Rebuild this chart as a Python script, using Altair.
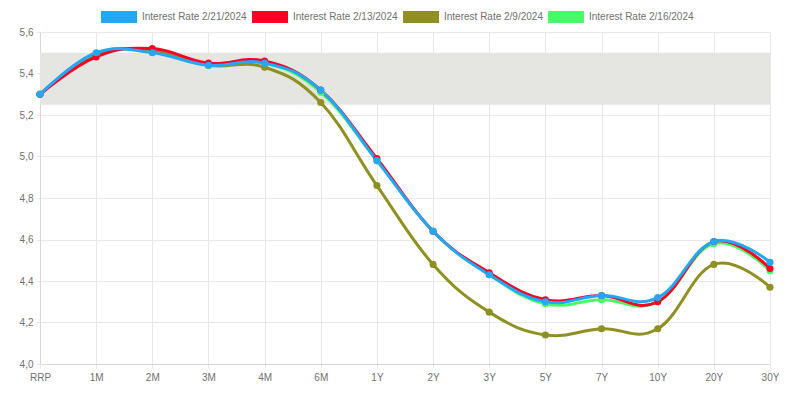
import altair as alt
import pandas as pd

terms = ["RRP", "1M", "2M", "3M", "4M", "6M", "1Y", "2Y", "3Y", "5Y", "7Y", "10Y", "20Y", "30Y"]

series_names = ["Interest Rate 2/21/2024", "Interest Rate 2/13/2024",
                "Interest Rate 2/9/2024", "Interest Rate 2/16/2024"]
series_colors = ["#22a7f9", "#ff0022", "#8f8f22", "#44ff66"]

rate_0221 = [5.30, 5.50, 5.50, 5.44, 5.45, 5.32, 4.98, 4.64, 4.43, 4.30, 4.33, 4.32, 4.59, 4.49]
rate_0213 = [5.30, 5.48, 5.52, 5.45, 5.46, 5.32, 4.99, 4.64, 4.44, 4.31, 4.33, 4.30, 4.59, 4.46]
rate_0209 = [5.30, 5.49, 5.51, 5.44, 5.43, 5.26, 4.86, 4.48, 4.25, 4.14, 4.17, 4.17, 4.48, 4.37]
rate_0216 = [5.30, 5.49, 5.51, 5.44, 5.45, 5.31, 4.98, 4.64, 4.43, 4.29, 4.31, 4.30, 4.58, 4.45]

band_low = [5.25]
band_high = [5.50]

y_ticks = [4.0, 4.2, 4.4, 4.6, 4.8, 5.0, 5.2, 5.4, 5.6]

# draw order: bottom to top (green, olive, red, blue)
draw_order = [(series_names[3], rate_0216), (series_names[2], rate_0209),
              (series_names[1], rate_0213), (series_names[0], rate_0221)]
rows = []
for name, vals in draw_order:
    for t, v in zip(terms, vals):
        rows.append({"term": t, "rate": v, "series": name})
df = pd.DataFrame(rows)
band_df = pd.DataFrame({"lo": band_low, "hi": band_high})

x_enc = alt.X("term:N", sort=terms, title=None,
              scale=alt.Scale(type="point", padding=0),
              axis=alt.Axis(labelAngle=0, labelFontSize=10, labelColor="#707070",
                            labelFont="Liberation Sans", ticks=True, tickSize=4,
                            tickColor="#e8e8e8", labelPadding=4,
                            grid=True, gridColor="#e8e8e8", domainColor="#d8d8d8"))
y_enc = alt.Y("rate:Q", title=None,
              scale=alt.Scale(domain=[4.0, 5.6], nice=False, zero=False),
              axis=alt.Axis(values=y_ticks, labelFontSize=10, labelColor="#707070",
                            labelFont="Liberation Sans", ticks=True, tickSize=4,
                            tickColor="#e8e8e8", labelPadding=3,
                            gridColor="#e8e8e8", domainColor="#d8d8d8",
                            labelExpr="replace(format(datum.value, '.1f'), '.', ',')"))
color_scale = alt.Scale(domain=series_names, range=series_colors)

band = alt.Chart(band_df).mark_rect(color="#e5e6e1").encode(
    y=alt.Y("lo:Q", scale=alt.Scale(domain=[4.0, 5.6], nice=False, zero=False)),
    y2="hi:Q",
)

legend = alt.Legend(title=None, orient="none", direction="horizontal",
                    legendX=67, legendY=-27, padding=0,
                    symbolType="M-1.5,-0.5H1.5V0.5H-1.5Z", symbolSize=576,
                    symbolStrokeWidth=0, symbolOpacity=1,
                    labelOffset=11, columnPadding=5,
                    labelFontSize=10, labelColor="#707070",
                    labelFont="Liberation Sans")

lines = alt.Chart(df).mark_line(interpolate="cardinal", tension=-0.2, strokeWidth=3).encode(
    x=x_enc, y=y_enc,
    color=alt.Color("series:N", scale=color_scale, legend=legend),
    detail="series:N",
)

points = alt.Chart(df).mark_point(filled=True, size=50, opacity=1, strokeWidth=0).encode(
    x=x_enc, y=y_enc,
    color=alt.Color("series:N", scale=color_scale, legend=legend),
)

chart = alt.layer(band, lines, points).properties(
    width=730, height=332,
    autosize=alt.AutoSizeParams(type="none"),
    padding={"left": 32, "top": 24, "right": 22, "bottom": 22},
).configure_view(stroke=None)

chart.save("out.html", embed_options={"renderer": "svg", "actions": False})
